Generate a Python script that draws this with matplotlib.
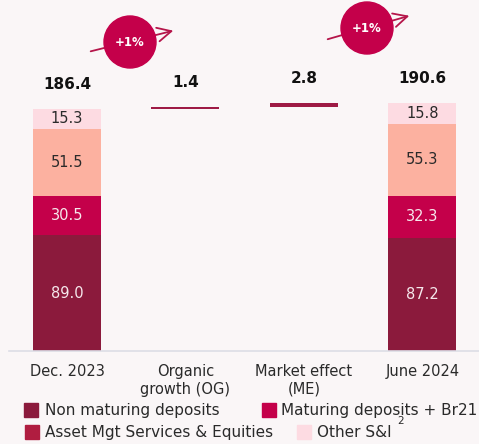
import matplotlib
matplotlib.use("Agg")
import matplotlib.pyplot as plt
from matplotlib.patches import Circle, Rectangle
import numpy as np

# ---- data ----
categories = ["Dec. 2023", "Organic\ngrowth (OG)", "Market effect\n(ME)", "June 2024"]
series_names = ["Non maturing deposits", "Maturing deposits + Br21",
                "Asset Mgt Services & Equities", "Other S&I"]
dec_values = [89.0, 30.5, 51.5, 15.3]
jun_values = [87.2, 32.3, 55.3, 15.8]
dec_total = 186.4
jun_total = 190.6
og_value = 1.4
me_value = 2.8
growth_labels = ["+1%", "+1%"]

seg_colors = ["#8b1a3c", "#c4004a", "#fcb1a0", "#fddbe2"]
legend_colors = ["#8b1a3c", "#c4004a", "#b01d40", "#fddbe2"]
seg_text_colors = ["#f6e8ec", "#f6e8ec", "#2a2a2a", "#2a2a2a"]
step_color = "#9e1a45"
bg = "#faf6f7"

W, H = 479, 444
fig = plt.figure(figsize=(W / 100, H / 100), dpi=100, facecolor=bg)

# main axes: value 0 at pixel y=351, 1.3 px per unit
ax = fig.add_axes([9 / W, (H - 351) / H, 470 / W, 351 / H])
ax.set_facecolor("none")
ax.set_ylim(0, 351 / 1.3)
ax.set_xlim(-58 / 118.5, 3 + 56.5 / 118.5)
for s in ["top", "right", "left"]:
    ax.spines[s].set_visible(False)
ax.spines["bottom"].set_color("#dcdde6")
ax.spines["bottom"].set_linewidth(1.2)
ax.set_yticks([])
x = np.arange(len(categories))
ax.set_xticks(x)
ax.set_xticklabels(categories, fontsize=10.5, color="#2a2a2a", linespacing=1.25)
ax.tick_params(axis="x", length=0, pad=9)

bw = 68 / 118.5
for xi, vals in [(0, dec_values), (3, jun_values)]:
    bottom = 0
    for v, c, tc in zip(vals, seg_colors, seg_text_colors):
        ax.bar(xi, v, bottom=bottom, width=bw, color=c, edgecolor="none")
        ax.text(xi, bottom + v / 2, f"{v:.1f}", ha="center", va="center",
                fontsize=10.5, color=tc)
        bottom += v

# waterfall steps
ax.bar(1, og_value, bottom=dec_total, width=bw, color=step_color, edgecolor="none")
ax.bar(2, me_value, bottom=dec_total + og_value, width=bw, color=step_color, edgecolor="none")

tops = [dec_total, dec_total + og_value, dec_total + og_value + me_value, jun_total]
labels = [dec_total, og_value, me_value, jun_total]
for xi, t, lab in zip(x, tops, labels):
    ax.annotate(f"{lab:.1f}", (xi, t), xytext=(0, 17.5), textcoords="offset points",
                ha="center", va="center", fontsize=11, fontweight="bold", color="#111111")

# overlay axes in pixel coordinates for decorations
ov = fig.add_axes([0, 0, 1, 1])
ov.set_xlim(0, W)
ov.set_ylim(H, 0)
ov.axis("off")
ov.set_facecolor("none")

circles = [((130, 42), (88, 52), (176, 30)), ((367, 28), (325, 40), (412, 15))]
for (c, a0, a1), lab in zip(circles, growth_labels):
    ov.annotate("", xy=a1, xytext=a0,
                arrowprops=dict(arrowstyle="->,head_length=1.0,head_width=0.5",
                                color="#b5154a", lw=1.3))
    ov.add_patch(Circle(c, 26, color="#c4004a", zorder=3))
    ov.text(c[0], c[1], lab, ha="center", va="center", color="white",
            fontsize=8.5, fontweight="bold", zorder=4)

# legend
leg_pos = [(24, 410, 45), (262, 410, 281), (25, 432, 45), (297, 432, 317)]
for (sx, sy, tx), name, col in zip(leg_pos, series_names, legend_colors):
    ov.add_patch(Rectangle((sx, sy - 7), 14, 14, color=col))
    ov.text(tx, sy, name, ha="left", va="center", fontsize=11, color="#2a2a2a")
ov.text(397, 421, "2", fontsize=7.5, color="#2a2a2a", ha="left", va="center")

fig.savefig("out.png", dpi=100, facecolor=bg)
